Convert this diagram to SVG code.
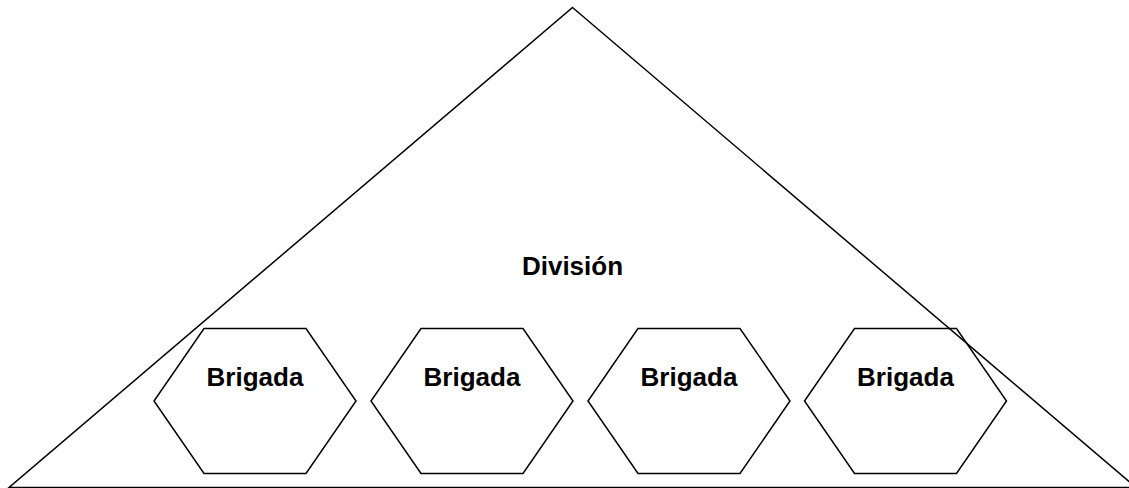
<svg xmlns="http://www.w3.org/2000/svg" width="1129" height="488" viewBox="0 0 1129 488">
<style>
.shape{fill:none;stroke:#000;stroke-width:1.5;stroke-linejoin:miter}
.hex{fill:#fff;stroke:#000;stroke-width:1.5}
.lbl{font-family:"Liberation Sans",Arial,sans-serif;font-weight:bold;font-size:26px;fill:#000;text-anchor:middle}
</style>
<rect width="1129" height="488" fill="#fff"/>
<g id="division">
<polygon class="shape" points="572.5,7.5 1136,487.5 9,487.5"/>
<text class="lbl" x="572.5" y="275">División</text>
</g>
<g id="brigada1">
<polygon class="hex" points="204,328.5 306,328.5 356,401 306,473.5 204,473.5 154,401" style="fill:none"/>
<text class="lbl" x="255" y="386">Brigada</text>
</g>
<g id="brigada2">
<polygon class="hex" points="421,328.5 523,328.5 573,401 523,473.5 421,473.5 371,401" style="fill:none"/>
<text class="lbl" x="472" y="386">Brigada</text>
</g>
<g id="brigada3">
<polygon class="hex" points="638,328.5 740,328.5 790,401 740,473.5 638,473.5 588,401" style="fill:none"/>
<text class="lbl" x="689" y="386">Brigada</text>
</g>
<g id="brigada4">
<polygon class="hex" points="854.5,328.5 956.5,328.5 1006.5,401 956.5,473.5 854.5,473.5 804.5,401" style="fill:none"/>
<text class="lbl" x="905.5" y="386">Brigada</text>
</g>
<g id="connectors"></g>
</svg>
